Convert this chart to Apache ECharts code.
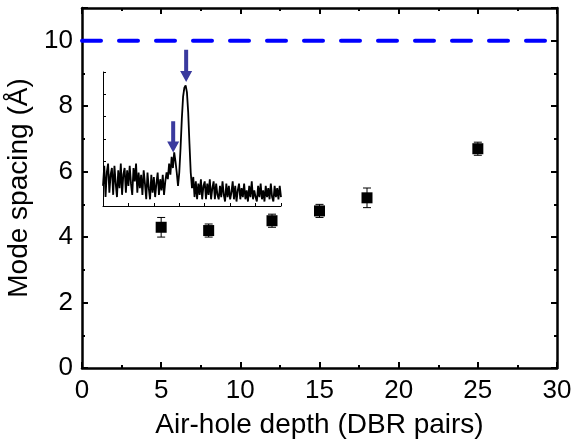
<!DOCTYPE html>
<html>
<head>
<meta charset="utf-8">
<script src="https://cdn.jsdelivr.net/npm/echarts@6/dist/echarts.min.js"></script>
<style>
  html, body { margin: 0; padding: 0; background: #fff; }
  #chart { width: 574px; height: 442px; }
</style>
</head>
<body>
<div id="chart"></div>
<script>
// main panel: mode spacing vs air-hole depth
const depth = [5, 8, 12, 15, 18, 25];
const spacing = [4.3, 4.2, 4.5, 4.8, 5.2, 6.7];
const spacingErr = [0.3, 0.2, 0.2, 0.2, 0.3, 0.2];
const refLevel = 10;

// inset spectrum (arbitrary units), sampled every 0.05 from 0 to 7
const specStep = 0.05;
const specY = [
  0.9, 1.8, 0.4, 1.5, 1.9, 0.6, 1.4, 1.7, 0.5, 1.8, 1.0,
  0.4, 1.6, 0.8, 1.9, 0.5, 1.4, 1.7, 0.6, 1.6, 0.9,
  1.8, 1.0, 0.5, 1.7, 1.1, 1.9, 0.6, 1.5, 0.8, 1.4,
  0.5, 1.6, 1.0, 0.3, 1.5, 0.8, 0.3, 1.4, 0.6, 1.3,
  0.4, 1.0, 1.5, 0.5, 1.2, 0.7, 1.4, 0.5, 1.1, 1.5,
  1.2, 1.9, 1.4, 2.2, 1.7, 2.4, 2.0, 1.5, 0.9,
  1.5, 2.6, 3.9, 4.9, 5.3, 5.4, 5.1, 4.2, 2.8, 1.5, 0.8,
  1.3, 0.4, 1.1, 0.3, 1.0, 0.5, 1.2, 0.3, 0.9, 1.1,
  0.3, 1.0, 0.5, 1.2, 0.3, 0.8, 1.1, 0.3, 1.0, 0.5,
  0.3, 0.9, 0.4, 1.1, 0.5, 0.2, 1.0, 0.4, 0.9, 0.3,
  0.6, 1.1, 0.3, 0.9, 0.2, 0.7, 1.0, 0.3, 0.8, 0.4,
  1.0, 0.3, 0.7, 0.2, 0.9, 0.4, 1.1, 0.3, 0.7, 0.4,
  0.2, 0.9, 0.4, 1.0, 0.3, 0.7, 0.2, 0.9, 0.4, 0.8,
  0.3, 1.0, 0.4, 0.2, 0.9, 0.4, 0.8, 0.3, 0.9, 0.4
];
// arrows marking the two peaks: [x, tail y, tip y]
const arrows = [[3.27, 7.0, 5.55], [2.76, 3.8, 2.4]];

const specData = specY.map((v, i) => [+(i * specStep).toFixed(2), v]);

const font = 'Liberation Sans, Arial, sans-serif';
const axisLine = { show: true, onZero: false, lineStyle: { color: '#000', width: 2.5 } };
const tick = { inside: true, length: 6, lineStyle: { color: '#000', width: 2 } };
const minor = { show: true, splitNumber: 2, length: 3, lineStyle: { color: '#000', width: 2 } };
const labelFont = { fontFamily: font, fontSize: 26, color: '#000' };
const nameFont = { fontFamily: font, fontSize: 28, color: '#000' };

const chart = echarts.init(document.getElementById('chart'));
chart.setOption({
  animation: false,
  backgroundColor: '#fff',
  grid: [
    { left: 82, right: 17, top: 8, bottom: 74, outerBoundsMode: 'none' },
    { left: 103, top: 72, width: 178, height: 134, outerBoundsMode: 'none' }
  ],
  xAxis: [
    {
      gridIndex: 0, type: 'value', min: 0, max: 30, interval: 5,
      name: 'Air-hole depth (DBR pairs)', nameLocation: 'middle', nameGap: 43,
      nameTextStyle: nameFont,
      axisLine, axisTick: tick, minorTick: minor,
      axisLabel: Object.assign({ margin: 10 }, labelFont),
      splitLine: { show: false }
    },
    {
      gridIndex: 0, type: 'value', position: 'top', min: 0, max: 30, interval: 5,
      axisLine, axisTick: tick, minorTick: minor,
      axisLabel: { show: false }, splitLine: { show: false }
    },
    {
      gridIndex: 1, type: 'value', min: 0, max: 7, interval: 1,
      axisLine: { show: true, onZero: false, lineStyle: { color: '#000', width: 1 } },
      axisTick: { inside: true, length: 3, lineStyle: { color: '#000' } },
      axisLabel: { show: false }, splitLine: { show: false }
    }
  ],
  yAxis: [
    {
      gridIndex: 0, type: 'value', min: 0, max: 11, interval: 2,
      name: 'Mode spacing (Å)', nameLocation: 'middle', nameGap: 48,
      nameTextStyle: nameFont,
      axisLine, axisTick: tick, minorTick: minor,
      axisLabel: Object.assign({ margin: 9, showMaxLabel: false }, labelFont),
      splitLine: { show: false }
    },
    {
      gridIndex: 0, type: 'value', position: 'right', min: 0, max: 11, interval: 2,
      axisLine, axisTick: tick, minorTick: minor,
      axisLabel: { show: false }, splitLine: { show: false }
    },
    {
      gridIndex: 1, type: 'value', min: 0, max: 6, interval: 1,
      axisLine: { show: true, onZero: false, lineStyle: { color: '#000', width: 1 } },
      axisTick: { inside: true, length: 3, lineStyle: { color: '#000' } },
      axisLabel: { show: false }, splitLine: { show: false }
    }
  ],
  series: [
    {
      type: 'line', xAxisIndex: 0, yAxisIndex: 0,
      data: [[0, refLevel], [30, refLevel]],
      symbol: 'none',
      lineStyle: { color: '#0000ff', width: 4, type: [19, 18], cap: 'round' }
    },
    {
      type: 'custom', xAxisIndex: 0, yAxisIndex: 0,
      data: depth.map((d, i) => [d, spacing[i] - spacingErr[i], spacing[i] + spacingErr[i]]),
      renderItem: (params, api) => {
        const lo = api.coord([api.value(0), api.value(1)]);
        const hi = api.coord([api.value(0), api.value(2)]);
        const w = 4;
        const s = { stroke: '#000', lineWidth: 1 };
        return {
          type: 'group',
          children: [
            { type: 'line', shape: { x1: lo[0], y1: lo[1], x2: hi[0], y2: hi[1] }, style: s },
            { type: 'line', shape: { x1: lo[0] - w, y1: lo[1], x2: lo[0] + w, y2: lo[1] }, style: s },
            { type: 'line', shape: { x1: hi[0] - w, y1: hi[1], x2: hi[0] + w, y2: hi[1] }, style: s }
          ]
        };
      }
    },
    {
      type: 'scatter', xAxisIndex: 0, yAxisIndex: 0,
      data: depth.map((d, i) => [d, spacing[i]]),
      symbol: 'rect', symbolSize: 11,
      itemStyle: { color: '#000', opacity: 1 }
    },
    {
      type: 'line', xAxisIndex: 2, yAxisIndex: 2,
      data: specData, symbol: 'none',
      lineStyle: { color: '#000', width: 1.8 }
    },
    {
      type: 'custom', xAxisIndex: 2, yAxisIndex: 2, clip: false,
      data: arrows,
      renderItem: (params, api) => {
        const tail = api.coord([api.value(0), api.value(1)]);
        const tip = api.coord([api.value(0), api.value(2)]);
        const head = 11, hw = 6, sw = 2;
        const x = tip[0];
        return {
          type: 'polygon',
          shape: {
            points: [
              [x - sw, tail[1]], [x + sw, tail[1]], [x + sw, tip[1] - head],
              [x + hw, tip[1] - head], [x, tip[1]], [x - hw, tip[1] - head],
              [x - sw, tip[1] - head]
            ]
          },
          style: { fill: '#3a3a9e' }
        };
      }
    }
  ]
});
</script>
</body>
</html>
